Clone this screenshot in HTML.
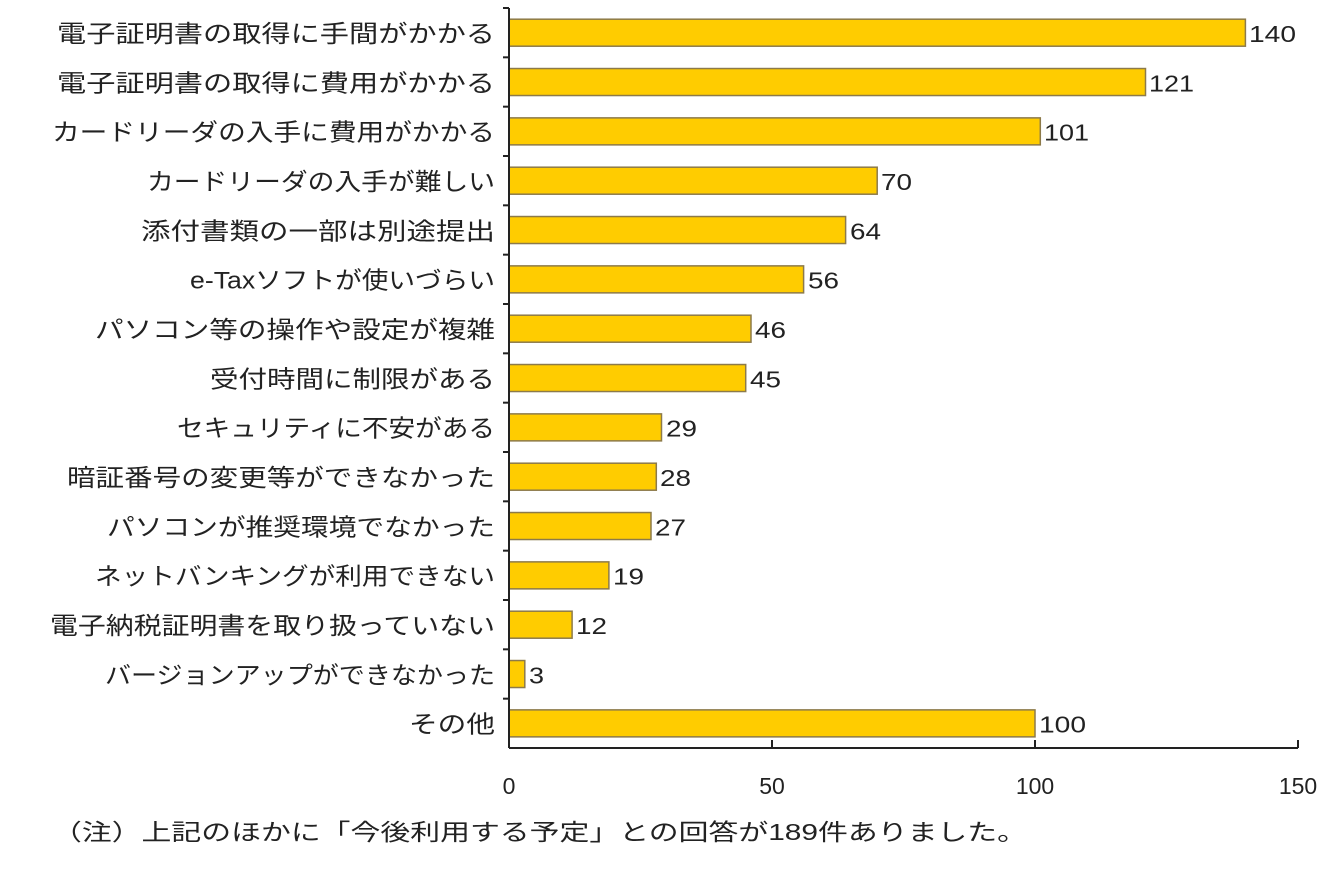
<!DOCTYPE html>
<html><head><meta charset="utf-8"><style>
html,body{margin:0;padding:0;background:#fff;}
svg text{font-family:"Liberation Sans","Noto Sans CJK JP",sans-serif;fill:#222;}
.v{font-size:23px;}
.l{font-size:24px;text-anchor:end;}
rect{fill:#ffcc00;stroke:#8c7a4a;stroke-width:1.5;}
.tk{stroke:#222;stroke-width:2;}
</style></head><body>
<svg width="1336" height="876" viewBox="0 0 1336 876" xmlns="http://www.w3.org/2000/svg">
<g transform="translate(0,8)"><line class="tk" x1="503" y1="0" x2="509" y2="0"/><rect x="509" y="11.2" width="736.4" height="27"/><text class="v" x="1249" y="34" textLength="47" lengthAdjust="spacingAndGlyphs">140</text><text class="l" x="495" y="34" textLength="438" lengthAdjust="spacingAndGlyphs">電子証明書の取得に手間がかかる</text></g>
<g transform="translate(0,57.33)"><line class="tk" x1="503" y1="0" x2="509" y2="0"/><rect x="509" y="11.2" width="636.5" height="27"/><text class="v" x="1149" y="34" textLength="45" lengthAdjust="spacingAndGlyphs">121</text><text class="l" x="495" y="34" textLength="438" lengthAdjust="spacingAndGlyphs">電子証明書の取得に費用がかかる</text></g>
<g transform="translate(0,106.67)"><line class="tk" x1="503" y1="0" x2="509" y2="0"/><rect x="509" y="11.2" width="531.3" height="27"/><text class="v" x="1044" y="34" textLength="45" lengthAdjust="spacingAndGlyphs">101</text><text class="l" x="495" y="34" textLength="443" lengthAdjust="spacingAndGlyphs">カードリーダの入手に費用がかかる</text></g>
<g transform="translate(0,156)"><line class="tk" x1="503" y1="0" x2="509" y2="0"/><rect x="509" y="11.2" width="368.2" height="27"/><text class="v" x="881" y="34" textLength="31" lengthAdjust="spacingAndGlyphs">70</text><text class="l" x="495" y="34" textLength="348" lengthAdjust="spacingAndGlyphs">カードリーダの入手が難しい</text></g>
<g transform="translate(0,205.33)"><line class="tk" x1="503" y1="0" x2="509" y2="0"/><rect x="509" y="11.2" width="336.6" height="27"/><text class="v" x="850" y="34" textLength="31" lengthAdjust="spacingAndGlyphs">64</text><text class="l" x="495" y="34" textLength="354" lengthAdjust="spacingAndGlyphs">添付書類の一部は別途提出</text></g>
<g transform="translate(0,254.67)"><line class="tk" x1="503" y1="0" x2="509" y2="0"/><rect x="509" y="11.2" width="294.6" height="27"/><text class="v" x="808" y="34" textLength="31" lengthAdjust="spacingAndGlyphs">56</text><text class="l" x="495" y="34" textLength="305" lengthAdjust="spacingAndGlyphs">e-Taxソフトが使いづらい</text></g>
<g transform="translate(0,304)"><line class="tk" x1="503" y1="0" x2="509" y2="0"/><rect x="509" y="11.2" width="242" height="27"/><text class="v" x="755" y="34" textLength="31" lengthAdjust="spacingAndGlyphs">46</text><text class="l" x="495" y="34" textLength="400" lengthAdjust="spacingAndGlyphs">パソコン等の操作や設定が複雑</text></g>
<g transform="translate(0,353.33)"><line class="tk" x1="503" y1="0" x2="509" y2="0"/><rect x="509" y="11.2" width="236.7" height="27"/><text class="v" x="750" y="34" textLength="31" lengthAdjust="spacingAndGlyphs">45</text><text class="l" x="495" y="34" textLength="285" lengthAdjust="spacingAndGlyphs">受付時間に制限がある</text></g>
<g transform="translate(0,402.67)"><line class="tk" x1="503" y1="0" x2="509" y2="0"/><rect x="509" y="11.2" width="152.5" height="27"/><text class="v" x="666" y="34" textLength="31" lengthAdjust="spacingAndGlyphs">29</text><text class="l" x="495" y="34" textLength="318" lengthAdjust="spacingAndGlyphs">セキュリティに不安がある</text></g>
<g transform="translate(0,452)"><line class="tk" x1="503" y1="0" x2="509" y2="0"/><rect x="509" y="11.2" width="147.3" height="27"/><text class="v" x="660" y="34" textLength="31" lengthAdjust="spacingAndGlyphs">28</text><text class="l" x="495" y="34" textLength="428" lengthAdjust="spacingAndGlyphs">暗証番号の変更等ができなかった</text></g>
<g transform="translate(0,501.33)"><line class="tk" x1="503" y1="0" x2="509" y2="0"/><rect x="509" y="11.2" width="142" height="27"/><text class="v" x="655" y="34" textLength="31" lengthAdjust="spacingAndGlyphs">27</text><text class="l" x="495" y="34" textLength="388" lengthAdjust="spacingAndGlyphs">パソコンが推奨環境でなかった</text></g>
<g transform="translate(0,550.67)"><line class="tk" x1="503" y1="0" x2="509" y2="0"/><rect x="509" y="11.2" width="99.9" height="27"/><text class="v" x="613" y="34" textLength="31" lengthAdjust="spacingAndGlyphs">19</text><text class="l" x="495" y="34" textLength="400" lengthAdjust="spacingAndGlyphs">ネットバンキングが利用できない</text></g>
<g transform="translate(0,600)"><line class="tk" x1="503" y1="0" x2="509" y2="0"/><rect x="509" y="11.2" width="63.1" height="27"/><text class="v" x="576" y="34" textLength="31" lengthAdjust="spacingAndGlyphs">12</text><text class="l" x="495" y="34" textLength="445" lengthAdjust="spacingAndGlyphs">電子納税証明書を取り扱っていない</text></g>
<g transform="translate(0,649.33)"><line class="tk" x1="503" y1="0" x2="509" y2="0"/><rect x="509" y="11.2" width="15.8" height="27"/><text class="v" x="529" y="34" textLength="15" lengthAdjust="spacingAndGlyphs">3</text><text class="l" x="495" y="34" textLength="390" lengthAdjust="spacingAndGlyphs">バージョンアップができなかった</text></g>
<g transform="translate(0,698.67)"><line class="tk" x1="503" y1="0" x2="509" y2="0"/><rect x="509" y="11.2" width="526" height="27"/><text class="v" x="1039" y="34" textLength="47" lengthAdjust="spacingAndGlyphs">100</text><text class="l" x="495" y="34" textLength="86" lengthAdjust="spacingAndGlyphs">その他</text></g>
<line x1="509" y1="8" x2="509" y2="748" stroke="#222" stroke-width="2"/>
<line x1="509" y1="748" x2="1298" y2="748" stroke="#222" stroke-width="2"/>
<line class="tk" x1="772" y1="740" x2="772" y2="748"/><line class="tk" x1="1035" y1="740" x2="1035" y2="748"/><line class="tk" x1="1298" y1="740" x2="1298" y2="748"/>
<g font-size="23" text-anchor="middle">
<text x="509" y="794">0</text><text x="772" y="794">50</text><text x="1035" y="794">100</text><text x="1298" y="794">150</text>
</g>
<text x="52" y="840" font-size="23" textLength="975" lengthAdjust="spacingAndGlyphs">（注）上記のほかに「今後利用する予定」との回答が189件ありました。</text>
</svg>
</body></html>
